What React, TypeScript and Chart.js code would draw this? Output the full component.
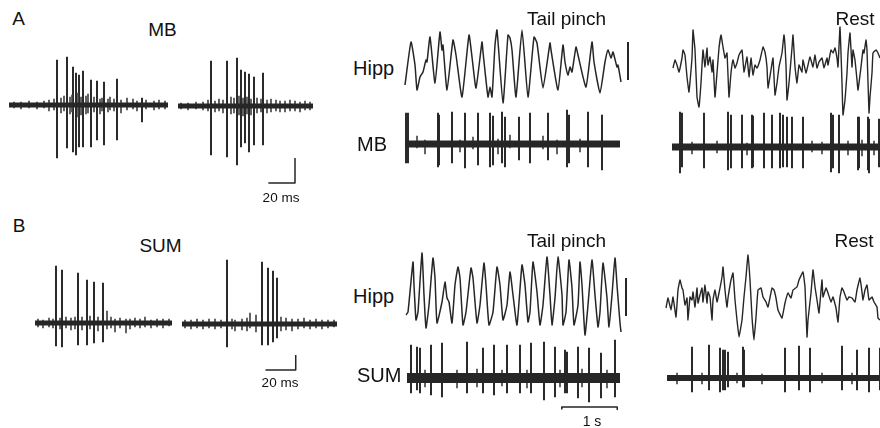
import React, { useEffect, useRef } from "react";
import { Chart, registerables } from "chart.js";

Chart.register(...registerables);

type Pt = [number, number];
type Spike = [number, number, number]; // [sample, min, max]

// ================= DATA (x: sample index, y: amplitude in a.u.) =================

// ---- Panel A: MB unit bursts ----
const mbBurst1Len = 159;
const mbBurst1Spikes: Spike[] = [
  [48, -53, 45], [58, -43, 48], [64, -47, 38], [67, -50, 32], [70, -42, 30], [74, -42, 34],
  [82, -42, 25], [88, -35, 24], [95, -40, 23], [108, -35, 26], [133, -17, 7],
];
const mbBurst1Noise: Spike[] = [
  [5, -3, 3], [12, -4, 3], [20, -3, 4], [28, -4, 3], [35, -3, 4], [40, -6, 5], [45, -5, 6],
  [52, -8, 7], [55, -6, 9], [61, -9, 8], [63, -7, 10], [69, -12, 12], [72, -10, 8], [77, -9, 9],
  [79, -8, 11], [85, -7, 8], [91, -9, 6], [93, -6, 7], [99, -7, 6], [101, -5, 8], [105, -6, 6],
  [112, -8, 5], [118, -5, 7], [124, -4, 6], [128, -6, 4], [137, -4, 5], [145, -5, 4], [150, -4, 5], [156, -4, 4],
];
const mbBurst2Len = 135;
const mbBurst2Spikes: Spike[] = [
  [33, -49, 45], [49, -51, 45], [59, -59, 48], [63, -41, 36], [67, -37, 34], [71, -46, 32],
  [76, -39, 29], [85, -39, 33],
];
const mbBurst2Noise: Spike[] = [
  [3, -3, 3], [10, -4, 3], [18, -3, 4], [25, -4, 4], [30, -5, 6], [37, -6, 5], [41, -5, 7],
  [45, -7, 6], [53, -8, 9], [56, -7, 8], [61, -9, 10], [65, -10, 8], [69, -8, 9], [73, -9, 7],
  [79, -7, 8], [83, -6, 7], [89, -7, 6], [93, -6, 7], [98, -5, 6], [102, -6, 5], [107, -6, 5],
  [112, -5, 6], [117, -5, 5], [122, -6, 4], [127, -4, 5], [132, -4, 4],
];
const mbScaleMs = 20;
const mbScaleAmp = 25;

// ---- Panel A: tail pinch ----
const hippTailA: Pt[] = [
  [0, -20], [6, 23], [10, 0], [12, -25], [15, -12], [18, -7], [21, 5], [22, 3], [25, 28], [30, -18],
  [35, 33], [37, 15], [38, 20], [42, -25], [48, 25], [51, 10], [57, -32], [64, 30], [67, 8], [71, -23],
  [77, 23], [78, 13], [83, -32], [85, -22], [87, -32], [90, 20], [92, 35], [98, -38], [103, 30], [105, 27],
  [107, 15], [111, -32], [117, 35], [123, -32], [129, 28], [132, 22], [138, -23], [145, 22], [146, 15],
  [153, -25], [158, 20], [160, 3], [163, -10], [165, -2], [167, -7], [171, 18], [173, 10], [181, -22],
  [187, 23], [189, 3], [195, -28], [200, 3], [203, 15], [206, 7], [208, 13], [212, -2], [213, 0], [216, -17],
];
const hippScaleAmp = 38;
const mbTailALen = 215;
const mbTailASpikes: Spike[] = [
  [1, -19, 31], [3, -19, 31], [33, -23, 31], [34, -21, 29], [47, -19, 32], [60, -24, 31], [73, -21, 31],
  [85, -23, 31], [88, -21, 28], [97, -19, 32], [100, -23, 27], [114, -16, 27], [125, -19, 31],
  [143, -16, 31], [162, -23, 34], [164, -19, 29], [183, -23, 32], [197, -26, 29],
];
const mbTailANoise: Spike[] = [
  [12, -4, 8], [20, -10, 4], [55, -8, 4], [68, -5, 7], [93, -10, 5], [105, -4, 9], [138, -5, 8],
  [152, -10, 4], [175, -8, 5],
];

// ---- Panel A: rest ----
const hippRestA: Pt[] = [
  [0, -3], [2, 5], [4, 0], [6, -7], [9, 7], [10, 15], [12, 10], [14, -12], [16, -27], [19, 7], [20, 35],
  [22, 15], [24, -32], [26, -42], [28, -18], [30, 15], [32, -2], [34, 17], [35, 0], [37, 8], [39, -7],
  [40, 5], [42, -32], [44, -8], [46, 17], [48, 30], [50, 18], [52, 7], [54, 12], [56, -32], [58, -8],
  [60, 5], [62, -3], [64, 2], [66, 10], [69, 15], [71, -7], [74, 8], [76, -12], [78, 7], [80, -10],
  [82, 0], [84, -3], [87, 5], [90, 18], [92, 13], [94, -2], [95, -23], [98, -5], [100, 7], [102, -30],
  [104, -18], [106, -2], [109, 12], [111, 30], [113, 0], [114, -35], [116, -18], [119, 17], [120, 30],
  [122, -2], [124, -18], [126, 0], [129, -7], [130, 5], [133, -8], [135, 0], [137, 8], [140, -2],
  [142, 10], [144, -3], [146, 3], [149, 7], [151, -3], [154, 7], [155, 0], [158, 15], [160, 12],
  [162, 17], [164, 7], [165, -2], [167, 38], [169, -18], [170, -50], [172, -35], [174, -8], [175, 12],
  [177, 32], [179, -2], [180, 15], [182, 5], [184, -15], [185, -25], [188, -2], [190, 15], [191, 12],
  [193, 25], [194, 15], [196, -48], [197, -32], [199, -8], [200, 12], [203, 15], [205, 12], [207, 7],
];
const mbRestALen = 208;
const mbRestASpikes: Spike[] = [
  [8, -26, 35], [10, -20, 34], [32, -21, 34], [56, -23, 35], [59, -21, 32], [70, -21, 32], [80, -21, 32],
  [81, -20, 31], [92, -21, 34], [100, -21, 32], [108, -21, 34], [111, -20, 32], [115, -20, 30],
  [120, -21, 30], [131, -21, 30], [159, -25, 34], [161, -21, 32], [167, -26, 32], [186, -23, 30],
  [187, -21, 30], [196, -23, 30], [197, -26, 28], [207, -20, 28],
];
const mbRestANoise: Spike[] = [
  [20, -7, 5], [45, -6, 6], [75, -8, 4], [140, -5, 6], [150, -7, 5], [176, -8, 6], [190, -9, 7], [202, -8, 6],
];

// ---- Panel B: SUM unit bursts ----
const sumBurst1Len = 137;
const sumBurst1Spikes: Spike[] = [
  [21, -23, 57], [27, -24, 53], [43, -22, 50], [52, -22, 43], [59, -20, 41], [68, -19, 40],
];
const sumBurst1Noise: Spike[] = [
  [3, -4, 4], [8, -5, 3], [14, -4, 5], [18, -5, 4], [25, -6, 5], [31, -5, 6], [36, -7, 5], [40, -6, 6],
  [47, -7, 6], [55, -6, 7], [63, -8, 6], [72, -6, 12], [76, -5, 6], [80, -9, 4], [85, -5, 5], [91, -10, 4],
  [95, -6, 4], [100, -4, 5], [105, -5, 4], [110, -4, 6], [116, -5, 3], [122, -4, 4], [128, -5, 4], [134, -3, 4],
];
const sumBurst2Len = 155;
const sumBurst2Spikes: Spike[] = [
  [45, -23, 64], [80, -21, 62], [86, -21, 56], [91, -18, 53], [95, -14, 46],
];
const sumBurst2Noise: Spike[] = [
  [3, -4, 4], [9, -5, 4], [15, -4, 5], [21, -5, 4], [27, -4, 5], [33, -5, 5], [39, -4, 4], [50, -5, 5],
  [53, -7, 4], [60, -6, 5], [65, -7, 6], [68, -4, 11], [74, -8, 9], [99, -7, 7], [104, -6, 6],
  [110, -7, 5], [116, -5, 5], [122, -4, 6], [128, -5, 4], [134, -4, 5], [140, -5, 4], [146, -4, 4], [152, -3, 4],
];
const sumScaleMs = 20;
const sumScaleAmp = 15;

// ---- Panel B: tail pinch ----
const hippTailB: Pt[] = [
  [0, -20], [2, -17], [7, 33], [8, 10], [10, -25], [12, -17], [16, 42], [18, 0], [20, -33], [23, -10],
  [27, 37], [29, 17], [31, -28], [36, -7], [39, 13], [41, -3], [43, -7], [46, -28], [49, 10], [52, 28],
  [54, 17], [57, -30], [60, -17], [65, 27], [67, 17], [71, -28], [74, -10], [78, 32], [80, 10], [83, -30],
  [87, -17], [91, 28], [94, 10], [97, -25], [101, -10], [104, 23], [107, 0], [111, -30], [116, 30],
  [119, 10], [122, -27], [124, -17], [127, 33], [131, 3], [134, -30], [137, -10], [141, 38], [144, 0],
  [146, -30], [149, -3], [152, 38], [156, 0], [157, -30], [160, -17], [163, 35], [166, 7], [168, -30],
  [172, -10], [174, 33], [176, 10], [179, -40], [182, -10], [186, 35], [189, 0], [192, -32], [194, -17],
  [197, 32], [201, -3], [203, -32], [206, 0], [209, 37], [211, 10], [214, -28], [215, -37],
];
const sumTailBLen = 213;
const sumTailBSpikes: Spike[] = [
  [4, -15, 33], [10, -12, 31], [13, -15, 30], [24, -17, 33], [35, -19, 35], [60, -15, 36], [76, -15, 30],
  [87, -17, 33], [100, -15, 33], [113, -15, 33], [124, -15, 35], [137, -22, 36], [148, -19, 31],
  [158, -15, 28], [160, -15, 26], [171, -20, 31], [182, -24, 30], [194, -20, 25], [208, -19, 38],
];
const sumTailBNoise: Spike[] = [
  [18, -9, 8], [50, -10, 8], [70, -9, 9], [95, -8, 8], [120, -10, 8], [153, -9, 8], [175, -9, 9], [200, -10, 8],
];
const timeScaleS = 1;

// ---- Panel B: rest ----
const hippRestB: Pt[] = [
  [0, -8], [2, 2], [5, -10], [7, 3], [10, -17], [12, 10], [14, 20], [16, 12], [17, 10], [19, -5], [21, 2],
  [22, -20], [24, 3], [26, 0], [27, 8], [29, -7], [31, 12], [32, -3], [34, 5], [36, 12], [37, -2], [39, 15],
  [41, -3], [42, 8], [44, 3], [46, -20], [47, 0], [49, 10], [51, -2], [53, 7], [56, 23], [57, 33], [59, 10],
  [61, -7], [62, 2], [65, 20], [67, 27], [69, 0], [71, -20], [73, -37], [76, -20], [78, 3], [80, 23],
  [82, 45], [84, 20], [86, -17], [88, -40], [90, -17], [92, 10], [95, 12], [97, 3], [100, -2], [102, -7],
  [106, 12], [108, 10], [110, 2], [112, -10], [116, -18], [119, -3], [122, 7], [125, 2], [127, 10],
  [131, 13], [133, 20], [137, 28], [139, 13], [141, -37], [142, -20], [145, 7], [147, 30], [149, 13],
  [151, 0], [153, -13], [156, 20], [157, 3], [160, 12], [162, 7], [165, -2], [167, 3], [170, -8],
  [172, -22], [174, 3], [176, 12], [178, 8], [181, 0], [183, 3], [186, 2], [189, -2], [191, 10], [194, 22],
  [196, 8], [197, 0], [199, 10], [201, 15], [203, 0], [206, 3], [208, -2], [211, -7], [212, -18], [214, -20],
];
const sumRestBLen = 213;
const sumRestBSpikes: Spike[] = [
  [25, -14, 31], [42, -12, 33], [53, -14, 30], [56, -12, 28], [58, -12, 28], [61, -9, 26], [76, -9, 31],
  [77, -9, 28], [118, -14, 30], [132, -12, 32], [143, -14, 30], [175, -12, 32], [190, -12, 28],
  [202, -14, 30], [213, -12, 30],
];
const sumRestBNoise: Spike[] = [
  [10, -6, 5], [35, -6, 5], [70, -5, 5], [95, -6, 4], [155, -5, 5], [185, -6, 5],
];

// ================= RENDERING =================
const INK = "#262626";
const NOISE = "#444";
const FONT = '"Liberation Sans", Arial, Helvetica, sans-serif';

const lineDs = (pts: Pt[], width = 1.5, tension = 0.15) => ({
  type: "line",
  data: pts.map(([x, y]) => ({ x, y })),
  borderColor: INK,
  borderWidth: width,
  pointRadius: 0,
  tension,
  fill: false,
  clip: false,
  borderJoinStyle: "round",
  borderCapStyle: "butt",
});

const bandDs = (len: number, width: number) => lineDs([[0, 0], [len, 0]], width, 0);

const spikeDs = (s: Spike[], thickness = 1.3, color = INK) => ({
  type: "bar",
  data: s.map(([x, lo, hi]) => ({ x, y: [lo, hi] })),
  backgroundColor: color,
  borderWidth: 0,
  barThickness: thickness,
  grouped: false,
  clip: false,
});

const noiseDs = (s: Spike[]) => spikeDs(s, 1, NOISE);

interface PanelProps {
  x0: number; y0: number;
  xMin: number; xMax: number; yMin: number; yMax: number;
  sx?: number; sy?: number;
  datasets: any[];
}

function Panel({ x0, y0, xMin, xMax, yMin, yMax, sx = 1, sy = 1, datasets }: PanelProps) {
  const ref = useRef<HTMLCanvasElement>(null);
  const left = Math.round(x0 + xMin * sx);
  const top = Math.round(y0 - yMax * sy);
  const width = Math.round((xMax - xMin) * sx);
  const height = Math.round((yMax - yMin) * sy);
  useEffect(() => {
    const chart = new Chart(ref.current as HTMLCanvasElement, {
      type: "line",
      data: { datasets } as any,
      options: {
        animation: false,
        responsive: false,
        devicePixelRatio: 1,
        events: [],
        layout: { padding: 0 },
        plugins: { legend: { display: false }, tooltip: { enabled: false }, title: { display: false } },
        scales: {
          x: { type: "linear", min: xMin, max: xMax, display: false, offset: false },
          y: { type: "linear", min: yMin, max: yMax, display: false },
        },
      } as any,
    });
    return () => chart.destroy();
  }, []);
  return (
    <canvas
      ref={ref}
      width={width}
      height={height}
      style={{ position: "absolute", left, top, width, height, display: "block" }}
    />
  );
}

function Label({ text, x, y, size, align = "center" }: { text: string; x: number; y: number; size: number; align?: "center" | "left" }) {
  return (
    <div
      style={{
        position: "absolute",
        left: x,
        top: y,
        transform: align === "center" ? "translate(-50%, -50%)" : "translate(0, -50%)",
        fontFamily: FONT,
        fontSize: size,
        lineHeight: 1,
        color: "#111",
        whiteSpace: "nowrap",
      }}
    >
      {text}
    </div>
  );
}

export default function App() {
  const mbMsPerPx = mbScaleMs / 27;
  const sumMsPerPx = sumScaleMs / 30;
  const pxPerS = 55;
  return (
    <div style={{ position: "absolute", left: 0, top: 0, width: 880, height: 428, overflow: "hidden", background: "#fff" }}>
      {/* ---------- Panel A ---------- */}
      <Panel x0={9} y0={105} xMin={-2} xMax={mbBurst1Len + 2} yMin={-58} yMax={52}
        datasets={[bandDs(mbBurst1Len, 5), noiseDs(mbBurst1Noise), spikeDs(mbBurst1Spikes)]} />
      <Panel x0={178} y0={106} xMin={-2} xMax={mbBurst2Len + 2} yMin={-63} yMax={52}
        datasets={[bandDs(mbBurst2Len, 5), noiseDs(mbBurst2Noise), spikeDs(mbBurst2Spikes)]} />
      <Panel x0={268} y0={183} xMin={-1} xMax={mbScaleMs + 1.5} yMin={-2} yMax={mbScaleAmp + 2} sx={1 / mbMsPerPx}
        datasets={[lineDs([[0, 0], [mbScaleMs, 0], [mbScaleMs, mbScaleAmp]], 1.5, 0)]} />

      <Panel x0={405} y0={65} xMin={-2} xMax={218} yMin={-42} yMax={40}
        datasets={[lineDs(hippTailA, 1.5, 0.15)]} />
      <Panel x0={628} y0={65} xMin={-2} xMax={2} yMin={-18} yMax={26}
        datasets={[lineDs([[0, -15], [0, -15 + hippScaleAmp]], 2, 0)]} />
      <Panel x0={405} y0={144} xMin={-2} xMax={mbTailALen + 2} yMin={-30} yMax={38}
        datasets={[bandDs(mbTailALen, 7), noiseDs(mbTailANoise), spikeDs(mbTailASpikes)]} />

      <Panel x0={673} y0={65} xMin={-2} xMax={210} yMin={-54} yMax={42}
        datasets={[lineDs(hippRestA, 1.4, 0.1)]} />
      <Panel x0={672} y0={147} xMin={-2} xMax={mbRestALen + 2} yMin={-30} yMax={38}
        datasets={[bandDs(mbRestALen, 7), noiseDs(mbRestANoise), spikeDs(mbRestASpikes)]} />

      {/* ---------- Panel B ---------- */}
      <Panel x0={35} y0={323} xMin={-2} xMax={sumBurst1Len + 2} yMin={-28} yMax={60}
        datasets={[bandDs(sumBurst1Len, 5), noiseDs(sumBurst1Noise), spikeDs(sumBurst1Spikes)]} />
      <Panel x0={182} y0={324} xMin={-2} xMax={sumBurst2Len + 2} yMin={-28} yMax={67}
        datasets={[bandDs(sumBurst2Len, 5), noiseDs(sumBurst2Noise), spikeDs(sumBurst2Spikes)]} />
      <Panel x0={265} y0={370} xMin={-1} xMax={sumScaleMs + 1.5} yMin={-2} yMax={sumScaleAmp + 2} sx={1 / sumMsPerPx}
        datasets={[lineDs([[0, 0], [sumScaleMs, 0], [sumScaleMs, sumScaleAmp]], 1.5, 0)]} />

      <Panel x0={406} y0={295} xMin={-2} xMax={217} yMin={-44} yMax={46}
        datasets={[lineDs(hippTailB, 1.5, 0.15)]} />
      <Panel x0={626} y0={295} xMin={-2} xMax={2} yMin={-24} yMax={20}
        datasets={[lineDs([[0, -21], [0, -21 + hippScaleAmp]], 2, 0)]} />
      <Panel x0={407} y0={378} xMin={-2} xMax={sumTailBLen + 2} yMin={-28} yMax={41}
        datasets={[bandDs(sumTailBLen, 10), noiseDs(sumTailBNoise), spikeDs(sumTailBSpikes)]} />
      <Panel x0={562} y0={407} xMin={-0.05} xMax={timeScaleS + 0.05} yMin={-4} yMax={2} sx={pxPerS}
        datasets={[lineDs([[0, -2.5], [0, 0], [timeScaleS, 0], [timeScaleS, -2.5]], 1.5, 0)]} />

      <Panel x0={666} y0={300} xMin={-2} xMax={216} yMin={-44} yMax={49}
        datasets={[lineDs(hippRestB, 1.4, 0.1)]} />
      <Panel x0={667} y0={378} xMin={-2} xMax={sumRestBLen + 2} yMin={-18} yMax={36}
        datasets={[bandDs(sumRestBLen, 6), noiseDs(sumRestBNoise), spikeDs(sumRestBSpikes)]} />

      {/* ---------- Text ---------- */}
      <Label text="A" x={18.5} y={18} size={19} />
      <Label text="MB" x={162.5} y={29} size={19} />
      <Label text="20 ms" x={281} y={198} size={13.5} />
      <Label text="Tail pinch" x={566.5} y={17.5} size={19} />
      <Label text="Rest" x={855} y={17.5} size={19} />
      <Label text="Hipp" x={353} y={68} size={20} align="left" />
      <Label text="MB" x={357} y={144} size={20} align="left" />

      <Label text="B" x={19} y={225} size={19} />
      <Label text="SUM" x={160.5} y={245} size={19} />
      <Label text="20 ms" x={280} y={383} size={13.5} />
      <Label text="Tail pinch" x={566.5} y={240} size={19} />
      <Label text="Rest" x={854} y={240} size={19} />
      <Label text="Hipp" x={353} y={296} size={20} align="left" />
      <Label text="SUM" x={357} y={375} size={20} align="left" />
      <Label text="1 s" x={592} y={421} size={14} />
    </div>
  );
}
